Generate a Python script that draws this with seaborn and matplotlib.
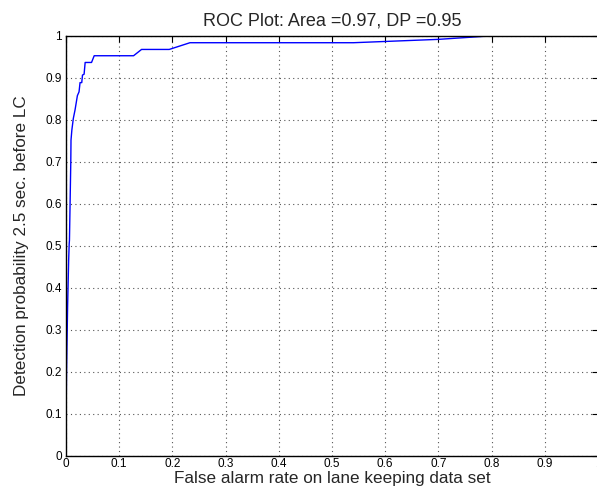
import matplotlib
matplotlib.use("Agg")
import matplotlib.pyplot as plt
import numpy as np
import pandas as pd
import seaborn as sns

# ROC curve points
false_alarm = [0.0, 0.0, 0.001, 0.003, 0.005, 0.006, 0.0065, 0.009, 0.0094,
               0.011, 0.0138, 0.017, 0.0214, 0.0245, 0.0264, 0.0296, 0.031,
               0.034, 0.036, 0.048, 0.053, 0.127, 0.142, 0.194, 0.233, 0.54,
               0.70, 0.795, 1.0]
detection = [0.0, 0.07, 0.2, 0.355, 0.467, 0.505, 0.514, 0.70, 0.752,
             0.776, 0.804, 0.824, 0.858, 0.867, 0.889, 0.889, 0.907,
             0.909, 0.937, 0.937, 0.953, 0.953, 0.968, 0.968, 0.984, 0.984,
             0.992, 1.0, 1.0]

ticks = np.round(np.arange(0, 1.01, 0.1), 1)
tick_labels = ["0", "0.1", "0.2", "0.3", "0.4", "0.5", "0.6", "0.7", "0.8", "0.9", "1"]

sns.set_theme(style="white")
plt.rcParams["font.family"] = ["Liberation Sans", "DejaVu Sans"]

df = pd.DataFrame({"fa": false_alarm, "dp": detection})

fig = plt.figure(figsize=(5.97, 4.91), dpi=100)
ax = fig.add_axes([66 / 597, 1 - 456 / 491, 532 / 597, 420 / 491])

sns.lineplot(data=df, x="fa", y="dp", sort=False, estimator=None,
             color="#0000ff", linewidth=1.0, ax=ax)

ax.set_xlim(0, 1)
ax.set_ylim(0, 1)
ax.set_xticks(ticks)
ax.set_xticklabels(tick_labels)
ax.set_yticks(ticks)
ax.set_yticklabels(tick_labels)
ax.grid(True, linestyle=(0, (1, 3)), color="#555555", linewidth=0.8)
ax.tick_params(direction="in", length=4, width=0.8, top=True, right=True,
               labelsize=8.5, colors="black")
ax.tick_params(axis="x", pad=1.5)
ax.tick_params(axis="y", pad=3)
for sp in ax.spines.values():
    sp.set_color("black")
    sp.set_linewidth(1.0)

ax.set_title("ROC Plot: Area =0.97, DP =0.95", fontsize=13, pad=7.5)
ax.set_xlabel("False alarm rate on lane keeping data set", fontsize=12.3)
ax.set_ylabel("Detection probability 2.5 sec. before LC", fontsize=12.3)
ax.xaxis.set_label_coords(0.5, -0.036)
ax.yaxis.set_label_coords(-0.07, 0.5)

fig.savefig("out.png", dpi=100)
